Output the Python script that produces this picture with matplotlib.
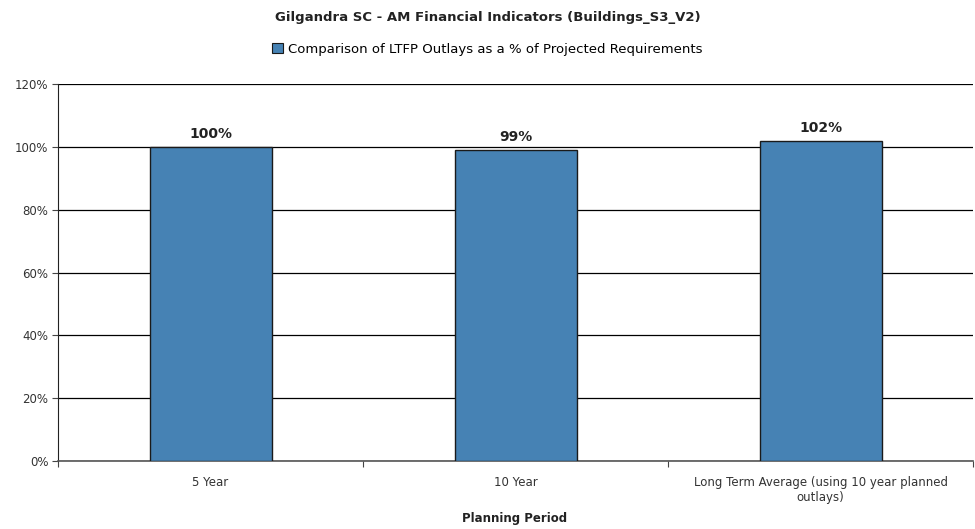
import numpy as np
import matplotlib.pyplot as plt
from matplotlib.patches import Patch

periods = ['5 Year', '10 Year', 'Long Term Average (using 10 year planned\noutlays)']
ratio_pct = [100, 99, 102]
value_labels = ['100%', '99%', '102%']
y_ticks = [0, 20, 40, 60, 80, 100, 120]

bar_color = '#4682b4'

fig = plt.figure(figsize=(9.75, 5.29), dpi=100)
ax = fig.add_axes([0.0595, 0.1285, 0.9385, 0.7125])

x = np.arange(len(periods))
ax.bar(x, ratio_pct, width=0.40, color=bar_color, edgecolor='#1a1a1a', linewidth=1.0, zorder=3)

for xi, v, lab in zip(x, ratio_pct, value_labels):
    ax.text(xi, v + 1.8, lab, ha='center', va='bottom', fontsize=10, fontweight='bold', color='#222222')

ax.set_xlim(-0.5, len(periods) - 0.5)
ax.set_ylim(0, 120)
ax.set_yticks(y_ticks)
ax.set_yticklabels([f'{t}%' for t in y_ticks], fontsize=8.5, color='#333333')
ax.yaxis.grid(True, color='black', linewidth=0.9, zorder=0)

# category boundary ticks as majors, names centred on minor ticks
ax.set_xticks(np.arange(-0.5, len(periods), 1.0))
ax.set_xticklabels([])
ax.set_xticks(x, minor=True)
ax.set_xticklabels(periods, minor=True, fontsize=8.5, color='#333333')
ax.tick_params(axis='x', which='major', length=4, direction='out', color='#444444')
ax.tick_params(axis='x', which='minor', length=0, pad=11)
ax.tick_params(axis='y', length=4, direction='out', color='#444444', pad=3)

for side in ['top', 'right']:
    ax.spines[side].set_visible(False)
ax.spines['left'].set_color('#222222')
ax.spines['bottom'].set_color('#555555')
ax.spines['bottom'].set_linewidth(1.2)

fig.text(0.528, 0.019, 'Planning Period', ha='center', va='center',
         fontsize=8.5, fontweight='bold', color='#222222')

fig.text(0.5, 0.966, 'Gilgandra SC - AM Financial Indicators (Buildings_S3_V2)',
         ha='center', va='center', fontsize=9.5, fontweight='bold', color='#222222')

handle = Patch(facecolor=bar_color, edgecolor='#1a1a1a', linewidth=0.8)
fig.legend([handle], ['Comparison of LTFP Outlays as a % of Projected Requirements'],
           loc='center', bbox_to_anchor=(0.5, 0.907), frameon=False, fontsize=9.5,
           handlelength=0.8, handleheight=0.8, handletextpad=0.4)

fig.savefig('out.png', dpi=100)
